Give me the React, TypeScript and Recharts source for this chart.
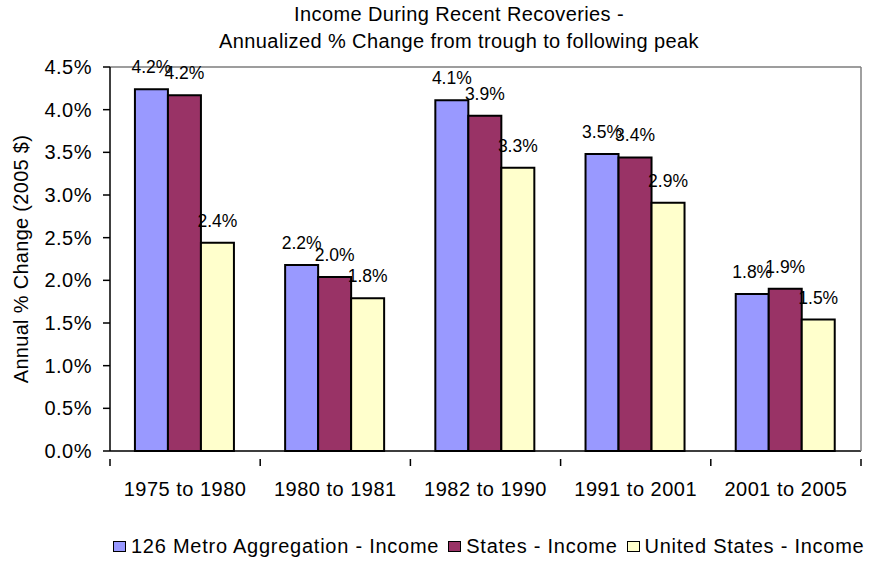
import React from "react";
import { Bar, BarChart, CartesianGrid, LabelList, ReferenceLine, XAxis, YAxis } from "recharts";

const periods = ["1975 to 1980", "1980 to 1981", "1982 to 1990", "1991 to 2001", "2001 to 2005"];
const metroIncome = [4.24, 2.18, 4.11, 3.48, 1.84];
const statesIncome = [4.17, 2.04, 3.93, 3.44, 1.9];
const usIncome = [2.44, 1.79, 3.32, 2.91, 1.54];
const yTicks = [0, 0.5, 1, 1.5, 2, 2.5, 3, 3.5, 4, 4.5];

const series = [
  { key: "metro", name: "126 Metro Aggregation - Income", color: "#9999FF" },
  { key: "states", name: "States - Income", color: "#993366" },
  { key: "us", name: "United States - Income", color: "#FFFFCC" },
];

const data = periods.map((p, i) => ({
  period: p,
  metro: metroIncome[i],
  states: statesIncome[i],
  us: usIncome[i],
}));

const FONT = "'Liberation Sans', Arial, sans-serif";
const W = 870;
const H = 561;
const margin = { top: 67, right: 0, bottom: 0, left: 0 };
const Y_WIDTH = 110;
const RIGHT_W = 9;
const plotW = W - Y_WIDTH - RIGHT_W;
const band = plotW / periods.length;

const pct = (v: any) => Number(v).toFixed(1) + "%";

const PeriodTick = (props: any) => {
  const { x, y, payload, index } = props;
  return (
    <g>
      <line x1={x - band / 2} x2={x - band / 2} y1={y} y2={y + 7} stroke="#000" strokeWidth={1.5} />
      {index === periods.length - 1 && (
        <line x1={x + band / 2} x2={x + band / 2} y1={y} y2={y + 7} stroke="#000" strokeWidth={1.5} />
      )}
      <text x={x} y={y + 37} textAnchor="middle" fontSize={20} fill="#000" style={{ letterSpacing: 0.5, fontFamily: FONT }}>
        {payload.value}
      </text>
    </g>
  );
};

const YLabel = (props: any) => {
  const vb = props.viewBox || {};
  const cx = vb.x + 21;
  const cy = vb.y + vb.height / 2;
  return (
    <text
      x={cx}
      y={cy}
      transform={`rotate(-90, ${cx}, ${cy})`}
      textAnchor="middle"
      dominantBaseline="central"
      fontSize={20}
      fill="#000"
      style={{ letterSpacing: 0.3, fontFamily: FONT }}
    >
      Annual % Change (2005 $)
    </text>
  );
};

export default function App() {
  return (
    <div style={{ position: "absolute", left: 0, top: 0, width: W, height: H, background: "#fff", fontFamily: FONT }}>
      <div
        style={{
          position: "absolute",
          left: 0,
          width: 918,
          top: 1,
          textAlign: "center",
          fontSize: 20,
          lineHeight: "27px",
          letterSpacing: 0.4,
          color: "#000",
        }}
      >
        Income During Recent Recoveries -
        <br />
        Annualized % Change from trough to following peak
      </div>
      <BarChart width={W} height={H} data={data} margin={margin} barCategoryGap="16.6%" barGap={0}>
        <CartesianGrid vertical={false} stroke="#e6e6e6" />
        <XAxis
          dataKey="period"
          height={110}
          tick={<PeriodTick />}
          tickLine={false}
          axisLine={{ stroke: "#000", strokeWidth: 1.5 }}
          interval={0}
        />
        <YAxis
          yAxisId="left"
          width={Y_WIDTH}
          domain={[0, 4.5]}
          ticks={yTicks}
          tickFormatter={pct}
          tickSize={7}
          tickMargin={11}
          tick={{ fontSize: 20, fill: "#000", style: { letterSpacing: 0.5, fontFamily: FONT } }}
          axisLine={{ stroke: "#000", strokeWidth: 1.5 }}
          tickLine={{ stroke: "#000", strokeWidth: 1.5 }}
          label={<YLabel />}
        />
        <YAxis
          yAxisId="right"
          orientation="right"
          width={RIGHT_W}
          domain={[0, 4.5]}
          tick={false}
          tickLine={false}
          axisLine={{ stroke: "#808080", strokeWidth: 1.5 }}
        />
        <ReferenceLine yAxisId="left" y={4.5} stroke="#808080" strokeWidth={1.5} />
        {series.map((s) => (
          <Bar
            key={s.key}
            yAxisId="left"
            dataKey={s.key}
            name={s.name}
            fill={s.color}
            stroke="#000"
            strokeWidth={2}
            isAnimationActive={false}
          >
            <LabelList
              dataKey={s.key}
              position="top"
              offset={16}
              formatter={pct}
              fontSize={17.5}
              fill="#000"
              style={{ fontFamily: FONT }}
            />
          </Bar>
        ))}
      </BarChart>
      <div
        style={{
          position: "absolute",
          left: 113,
          top: 535,
          display: "flex",
          alignItems: "center",
          fontSize: 20,
          letterSpacing: 0.75,
          color: "#000",
          whiteSpace: "nowrap",
        }}
      >
        {series.map((s) => (
          <div key={s.key} style={{ display: "flex", alignItems: "center", marginRight: 9 }}>
            <span
              style={{
                display: "inline-block",
                width: 11,
                height: 9,
                background: s.color,
                border: "1.5px solid #000",
                marginRight: 5,
              }}
            />
            <span>{s.name}</span>
          </div>
        ))}
      </div>
    </div>
  );
}
